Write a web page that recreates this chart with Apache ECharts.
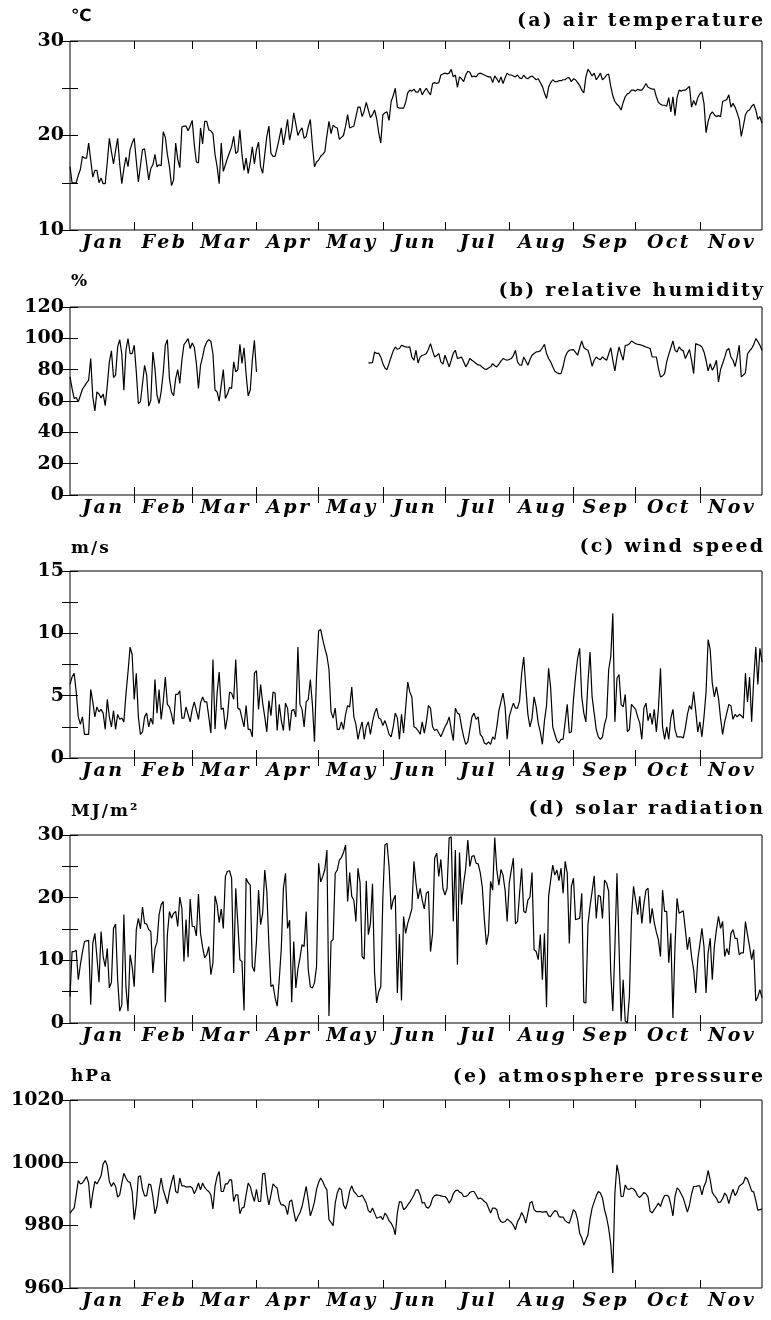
<!DOCTYPE html>
<html>
<head>
<meta charset="utf-8">
<script src="https://cdn.jsdelivr.net/npm/echarts@6/dist/echarts.min.js"></script>
<style>
  html, body { margin: 0; padding: 0; background: #fff; }
  #chart { width: 771px; height: 1320px; }
</style>
</head>
<body>
<div id="chart"></div>
<script>
// day index 0 = Jan 1; axis runs to the end of November
const monthNames = ["Jan", "Feb", "Mar", "Apr", "May", "Jun", "Jul", "Aug", "Sep", "Oct", "Nov"];
const monthTicks = [31, 59, 90, 120, 151, 181, 212, 243, 273, 304];
const monthMids = [15.5, 45, 74.5, 105, 135.5, 166, 196.5, 227.5, 258, 288.5, 319];
const lastDay = 334;

// (a) air temperature, degC
const tempVals = [
  16.7,15.0,15.0,15.0,15.8,16.4,17.8,17.6,17.6,19.2,
  17.4,15.6,16.3,16.3,15.0,15.5,14.9,14.9,17.2,19.7,
  18.3,17.0,18.4,19.7,17.0,14.9,16.5,17.7,16.7,18.5,
  19.2,19.7,17.3,15.1,16.8,18.5,18.6,17.0,15.3,16.5,
  16.9,18.0,16.7,16.9,16.8,20.4,19.8,18.0,16.7,14.7,
  15.3,19.2,17.5,16.6,20.9,21.0,21.0,20.5,21.0,21.6,
  19.0,17.2,17.1,20.8,19.1,21.5,21.5,20.6,20.5,20.2,
  18.0,16.7,14.9,19.2,16.2,16.9,17.6,18.2,18.8,19.9,
  18.1,18.3,20.6,18.0,16.3,17.6,16.0,17.2,18.8,17.0,
  18.5,19.3,16.7,16.0,18.0,19.9,21.0,18.1,17.8,17.8,
  18.7,19.7,20.8,19.0,20.3,21.7,19.5,20.6,22.4,21.2,
  20.0,20.5,20.8,19.7,19.9,20.9,21.7,19.0,16.7,17.2,
  17.4,17.8,18.0,18.3,20.0,21.5,20.2,21.1,20.9,20.8,
  19.6,19.8,20.0,21.0,22.2,20.8,20.9,21.0,22.0,23.0,
  23.0,22.0,22.6,23.5,22.7,21.9,22.2,22.7,21.8,20.3,
  19.2,22.2,22.4,22.5,21.6,23.6,24.2,25.0,23.0,22.9,
  22.9,22.9,23.5,24.5,24.8,24.7,24.9,24.6,24.6,25.0,
  24.3,24.7,25.0,24.6,24.3,25.5,25.6,25.5,25.6,26.4,
  26.5,26.6,26.5,26.6,27.0,26.2,26.4,25.1,26.2,26.0,
  25.7,26.4,26.8,26.7,26.2,26.3,26.2,26.5,26.6,26.5,
  26.4,26.3,26.2,26.2,25.6,26.3,26.0,25.6,26.2,25.5,
  26.1,26.6,26.4,26.4,26.3,26.2,26.4,26.1,26.0,26.4,
  26.1,26.0,26.2,26.3,26.1,25.9,26.0,25.6,25.2,24.5,
  23.9,25.1,25.6,25.9,25.7,25.7,25.8,25.8,25.9,25.9,
  26.1,26.1,25.7,26.0,25.9,25.6,25.3,24.8,24.5,26.2,
  27.0,26.7,26.3,26.6,25.9,26.2,26.6,25.9,26.1,26.4,
  26.5,25.2,24.2,23.6,23.3,23.1,22.7,23.5,24.1,24.4,
  24.5,24.8,24.8,24.7,24.9,24.8,24.8,25.1,25.5,25.1,
  25.0,24.9,24.9,24.1,23.5,23.3,23.2,23.2,23.1,24.0,
  22.5,24.1,22.1,24.0,24.8,24.7,24.8,24.8,25.0,25.2,
  23.0,23.7,23.2,24.0,24.4,24.6,23.4,20.3,21.5,22.2,
  22.5,22.2,22.0,22.1,22.0,23.6,23.7,23.8,24.3,23.0,
  23.4,23.0,22.4,21.7,19.9,21.0,22.2,22.6,22.7,23.1,
  23.3,22.7,21.7,22.0,21.3
];

// (b) relative humidity, % : two recorded stretches with a gap between them
const rhStartA = 0;
const rhValsA = [
  75.4,68.0,61.6,62.2,59.5,63.5,67.5,69.5,71.6,73.3,
  87.1,62.7,53.7,65.8,64.5,62.0,64.5,57.0,70.0,85.0,
  92.0,75.0,76.5,94.5,99.2,90.0,66.9,92.4,99.8,90.3,
  90.3,95.6,78.6,58.4,59.5,71.0,82.8,76.5,56.7,60.5,
  91.3,80.7,63.7,58.4,66.0,78.0,95.6,99.2,74.3,65.8,
  63.3,74.3,80.0,71.2,86.0,96.0,97.7,99.8,93.5,97.0,
  94.5,84.0,68.0,82.8,88.1,94.5,97.7,99.2,98.0,90.0,
  67.0,65.8,59.9,70.1,80.0,61.6,64.4,68.6,68.0,85.0,
  78.6,80.0,96.2,84.0,94.0,77.1,63.3,67.0,86.0,98.8,
  78.6
];
const rhStartB = 144;
const rhValsB = [
  84.3,84.3,84.5,91.3,90.3,90.5,
  88.0,84.0,81.0,80.0,84.0,88.1,92.0,94.5,93.0,93.5,
  95.6,95.0,94.5,94.3,94.5,88.0,86.0,92.4,84.3,88.0,
  89.2,89.5,90.3,93.0,96.6,92.0,88.1,89.0,90.3,85.0,
  83.5,89.2,85.5,81.8,86.0,90.5,92.4,87.1,87.5,88.1,
  85.0,81.8,84.0,87.1,86.0,85.0,84.0,83.0,82.8,81.5,
  80.5,80.1,81.0,81.8,83.9,82.5,81.8,83.5,85.5,87.1,
  86.5,86.0,86.5,87.1,89.0,92.4,85.0,83.0,82.8,88.1,
  85.5,82.8,86.5,89.2,90.3,91.3,91.5,92.0,94.0,96.2,
  90.3,87.1,85.0,81.8,79.0,78.0,77.5,77.5,82.0,88.1,
  91.0,92.4,92.6,92.8,91.0,89.2,94.0,98.3,94.1,93.0,
  92.4,88.0,82.2,86.0,88.1,87.0,86.4,88.1,87.0,86.0,
  90.0,94.1,86.0,79.2,88.0,94.5,90.0,86.0,95.6,95.6,
  96.5,98.3,97.5,96.6,96.2,96.0,95.6,95.0,94.5,94.0,
  93.5,88.1,88.1,88.1,81.0,75.4,76.0,77.5,85.0,89.8,
  94.0,98.3,92.4,91.3,94.5,92.8,92.0,87.1,90.0,92.8,
  86.0,77.5,96.6,96.0,95.6,94.5,91.3,86.0,79.2,83.9,
  79.7,82.0,86.0,72.2,80.0,83.9,88.0,92.4,93.5,88.1,
  86.0,82.0,88.0,95.6,75.4,76.5,78.0,90.0,92.0,93.5,
  96.0,99.8,98.0,95.6,92.4
];

// (c) wind speed, m/s
const windVals = [
  5.9,6.5,6.8,5.3,3.3,2.7,3.3,1.9,1.9,1.9,
  5.5,4.5,3.3,4.1,3.7,3.9,3.6,2.3,4.7,3.3,
  2.5,3.8,2.3,3.5,3.1,3.2,2.9,5.1,6.9,8.9,
  8.3,4.7,6.8,3.3,1.9,2.1,3.3,3.6,2.5,3.2,
  2.7,6.3,3.6,5.5,3.1,4.5,6.5,4.3,4.1,3.5,
  2.7,5.1,5.1,5.4,3.2,3.2,4.1,3.5,2.9,3.9,
  4.5,3.8,3.1,4.4,4.9,4.5,4.5,3.3,2.0,7.9,
  2.3,5.2,6.9,3.9,4.0,2.3,3.3,5.3,5.2,4.7,
  7.9,4.0,3.9,3.2,2.5,4.2,2.3,2.3,1.7,6.8,
  7.0,3.9,5.9,4.4,3.3,2.1,4.6,3.4,5.3,5.2,
  2.2,4.3,3.0,2.2,4.4,4.0,2.2,3.8,3.9,3.3,
  8.9,4.3,3.9,2.5,4.5,4.7,6.3,4.3,1.3,6.7,
  10.2,10.3,9.5,8.8,8.2,7.1,3.7,3.2,4.0,2.3,
  2.3,2.9,2.3,3.5,4.2,4.1,5.7,3.3,2.7,1.5,
  2.3,2.9,1.5,2.5,2.9,1.9,2.9,3.6,4.0,3.2,
  3.1,2.6,3.0,2.5,1.9,1.7,2.5,3.6,3.2,1.5,
  3.5,2.0,4.0,6.1,5.3,4.9,2.5,2.4,2.2,1.9,
  2.9,2.0,2.9,4.2,4.0,2.5,2.2,2.3,2.0,1.7,
  2.1,2.5,2.8,3.3,2.3,1.4,4.0,3.6,3.5,2.5,
  1.7,1.1,1.3,2.3,3.3,3.6,3.1,3.3,1.9,1.7,
  1.2,1.1,1.3,1.1,1.7,1.5,2.5,3.8,4.5,5.2,
  4.1,1.5,3.3,3.9,4.4,4.0,4.0,4.6,6.8,8.1,
  5.7,3.5,2.5,3.2,4.9,4.1,2.8,2.1,1.1,3.0,
  4.2,7.2,5.6,2.5,1.9,1.4,1.2,1.5,1.5,2.9,
  4.3,2.0,2.1,4.7,6.5,8.0,8.8,4.9,3.6,2.9,
  6.1,8.5,4.9,3.6,2.3,1.7,1.5,1.7,2.7,3.3,
  7.1,8.1,11.6,2.9,6.4,6.7,4.3,4.1,5.1,2.1,
  2.3,4.3,4.1,3.9,3.3,2.8,1.5,4.0,4.4,3.0,
  3.6,2.7,3.9,2.1,3.9,7.2,2.5,1.5,2.5,1.5,
  3.2,3.9,2.3,1.7,1.7,1.7,1.6,2.4,3.5,4.2,
  3.9,5.3,3.8,2.1,2.9,1.7,3.3,5.3,9.5,8.7,
  6.0,4.9,5.7,4.8,3.2,1.9,2.9,3.6,4.3,4.2,
  3.1,3.5,3.3,3.5,3.4,3.2,6.8,4.5,6.5,2.9,
  6.3,8.9,5.9,8.8,7.7
];

// (d) solar radiation, MJ/m2
const solarVals = [
  4.2,11.4,11.4,11.6,6.9,9.3,11.3,13.0,13.1,13.2,
  2.9,12.7,14.3,10.5,6.5,14.6,10.6,9.0,11.9,5.6,
  6.5,15.1,15.8,6.9,1.9,2.9,17.3,5.8,1.9,10.9,
  9.0,5.8,14.9,16.7,15.0,18.5,15.9,15.8,14.9,14.6,
  8.0,11.9,12.9,17.3,18.9,19.4,3.3,14.1,17.8,16.7,
  17.5,17.8,15.4,20.1,18.3,9.8,16.5,10.5,19.8,15.4,
  15.4,13.9,20.6,14.3,12.1,10.4,10.9,12.2,7.7,9.6,
  20.3,18.9,16.0,18.2,15.1,23.4,24.2,24.3,23.1,8.0,
  21.5,15.9,10.1,9.8,2.0,23.1,22.4,22.0,9.0,8.2,
  13.0,21.2,15.7,17.5,24.4,21.0,12.5,5.8,6.1,4.0,
  2.7,6.9,12.0,21.5,23.9,15.1,16.4,3.3,13.0,5.6,
  8.6,10.4,12.5,12.2,17.8,8.5,5.8,5.6,6.4,9.0,
  25.5,22.5,23.4,24.5,27.6,1.1,13.0,13.3,23.9,24.4,
  26.0,26.4,27.2,28.4,19.4,24.0,20.2,19.6,16.2,24.7,
  22.4,10.6,10.2,22.7,14.1,15.9,22.2,8.0,3.2,5.0,
  5.8,20.0,28.4,28.7,25.0,18.1,19.6,20.4,4.8,14.2,
  3.6,17.0,14.3,15.9,17.0,18.2,25.8,22.3,19.8,21.5,
  19.6,18.2,20.7,21.0,11.4,14.3,26.3,27.1,23.4,26.1,
  21.5,20.4,21.5,29.5,29.7,16.2,27.6,9.3,27.2,18.9,
  22.3,24.7,29.2,25.0,26.6,26.7,25.5,25.4,24.0,21.7,
  16.5,12.5,14.3,22.6,21.2,29.6,24.4,22.0,24.5,23.6,
  21.2,16.2,22.3,24.4,26.3,15.8,16.2,20.7,24.7,17.8,
  17.6,19.6,20.1,24.0,11.7,11.4,10.1,14.1,6.9,14.3,
  2.5,20.2,22.8,25.2,23.6,24.4,22.7,24.7,20.7,25.8,
  23.9,12.7,21.8,23.1,16.5,16.6,16.7,20.7,3.3,3.2,
  15.7,18.6,21.0,23.5,16.7,20.4,20.2,16.7,22.8,22.3,
  21.0,8.0,1.9,12.2,23.9,12.2,0.3,6.9,0.3,0.0,
  4.2,17.0,21.8,19.6,17.3,20.2,15.9,19.0,21.2,21.5,
  15.9,18.3,16.0,14.5,13.3,10.6,21.2,17.8,17.8,9.6,
  14.3,0.8,12.2,19.9,17.5,17.7,17.9,14.9,11.7,13.7,
  10.6,8.5,4.8,10.1,12.5,15.1,12.2,4.8,11.2,13.5,
  6.9,12.2,14.9,17.0,15.1,16.2,10.6,11.9,10.9,14.3,
  14.9,13.5,13.5,10.9,11.2,11.2,16.2,14.1,12.2,10.1,
  11.7,3.5,4.2,5.3,4.0
];

// (e) atmosphere pressure, hPa
const pressVals = [
  983.9,984.8,985.5,989.7,994.3,993.2,993.5,994.5,995.6,993.5,
  985.5,990.3,994.0,993.2,994.5,995.8,999.6,1000.7,999.0,994.0,
  992.4,993.7,992.4,989.0,989.7,993.5,996.6,995.1,994.0,993.7,
  990.8,981.8,986.5,995.6,995.8,991.5,989.4,989.4,993.2,992.9,
  989.2,983.7,986.0,991.3,995.1,991.3,989.2,986.9,990.8,993.7,
  996.1,990.8,990.3,995.1,992.6,992.6,992.2,992.3,992.4,991.9,
  990.1,991.5,993.5,991.3,993.5,992.1,991.3,990.8,989.7,985.2,
  992.4,995.6,997.2,990.8,990.8,993.2,993.2,994.5,994.5,987.6,
  989.7,989.7,983.7,985.5,985.8,989.7,993.5,992.4,989.7,987.6,
  991.5,987.6,987.6,996.4,996.6,990.3,986.5,989.7,993.2,992.4,
  991.9,988.0,986.5,986.5,986.0,983.4,987.6,988.1,984.4,981.2,
  982.8,984.0,986.0,989.2,992.4,988.1,983.0,985.0,987.5,991.5,
  993.7,995.1,994.0,992.4,991.3,981.8,980.9,979.9,987.1,990.3,
  991.9,991.3,986.5,985.2,987.5,991.0,992.6,990.8,990.1,989.2,
  989.2,989.7,988.4,987.1,984.7,984.1,985.5,983.9,982.3,982.5,
  982.8,981.8,983.9,983.0,981.5,980.7,979.4,977.0,984.0,987.6,
  987.4,985.0,985.5,986.5,987.4,988.5,989.7,991.3,991.3,989.7,
  987.1,987.3,985.8,985.5,986.5,988.7,989.5,989.7,989.6,989.4,
  989.2,989.2,988.5,987.1,988.1,990.1,991.0,991.3,990.6,990.3,
  989.2,989.2,989.6,990.5,990.8,990.8,989.7,988.4,988.7,988.3,
  987.6,987.1,985.5,983.9,985.5,985.5,985.0,982.3,981.2,980.9,
  981.2,982.0,981.5,980.9,980.0,978.6,981.2,982.3,984.1,982.8,
  980.7,983.9,987.1,987.6,985.0,984.4,984.4,984.4,984.2,984.3,
  984.4,983.0,982.8,983.9,984.7,984.4,982.8,982.6,982.6,981.5,
  981.0,980.7,982.8,985.0,984.3,981.8,977.5,976.0,973.7,975.3,
  977.0,982.0,985.5,987.5,989.4,990.8,990.3,988.7,985.0,982.5,
  979.0,974.0,964.8,990.3,999.3,996.0,989.2,989.2,992.9,991.6,
  991.5,991.9,991.6,990.8,989.4,988.9,989.6,990.5,990.1,989.0,
  984.5,984.0,985.0,986.0,987.1,986.0,988.1,989.5,989.6,989.2,
  986.5,983.0,989.2,991.9,991.3,990.0,988.7,986.5,984.2,986.5,
  990.0,992.4,992.4,992.6,992.6,989.7,992.4,994.0,997.5,994.5,
  990.5,989.5,988.7,987.2,987.5,988.5,990.3,989.4,986.9,989.5,
  991.5,989.5,990.6,992.5,993.0,993.6,995.4,994.7,992.9,991.0,
  990.6,988.0,984.8,985.0,985.2
];

const toPairs = (vals, start) => vals.map((v, i) => [start + i, v]);

// wrap each character in a rich-text token so it can be letter-spaced
const spaced = (s, tag) => s.split('').map(c => '{' + tag + '|' + c + '}').join('');

const serif = 'DejaVu Serif';
const panels = [
  { top: 41, height: 189, min: 10, max: 30, step: 5, every: 10, unit: '℃', unitFont: 'DejaVu Sans', unitGap: 24,
    title: '(a) air temperature', titleTop: 12, data: [toPairs(tempVals, 0)] },
  { top: 307, height: 188, min: 0, max: 120, step: 20, every: 20, unit: '%', unitFont: serif, unitGap: 25,
    title: '(b) relative humidity', titleTop: 282, data: [toPairs(rhValsA, rhStartA), toPairs(rhValsB, rhStartB)] },
  { top: 571, height: 187, min: 0, max: 15, step: 2.5, every: 5, unit: 'm/s', unitFont: serif, unitGap: 22,
    title: '(c) wind speed', titleTop: 538, data: [toPairs(windVals, 0)] },
  { top: 835, height: 188, min: 0, max: 30, step: 5, every: 10, unit: 'MJ/m²', unitFont: serif, unitGap: 23,
    title: '(d) solar radiation', titleTop: 800, data: [toPairs(solarVals, 0)] },
  { top: 1100, height: 188, min: 960, max: 1020, step: 20, every: 20, unit: 'hPa', unitFont: serif, unitGap: 23,
    title: '(e) atmosphere pressure', titleTop: 1068, data: [toPairs(pressVals, 0)] }
];

const monthRich = { m: { fontFamily: serif, fontWeight: 'bold', fontStyle: 'italic', fontSize: 19, color: '#000', padding: [0, 1.2] } };
const titleRich = { t: { fontFamily: serif, fontWeight: 'bold', fontSize: 19, color: '#000', padding: [0, 1.1] } };

const grids = [], xAxes = [], yAxes = [], series = [], titles = [];

panels.forEach((p, k) => {
  grids.push({ left: 70, right: 9, top: p.top, height: p.height, show: true,
    borderColor: '#000', borderWidth: 1, backgroundColor: 'transparent' });

  const xBase = {
    gridIndex: k, type: 'value', min: 0, max: lastDay,
    axisLine: { show: false }, splitLine: { show: false },
    axisTick: { show: true, inside: true, length: 8, customValues: monthTicks, lineStyle: { color: '#000', width: 1 } }
  };
  xAxes.push(Object.assign({}, xBase, {
    position: 'bottom',
    axisLabel: {
      customValues: monthMids, margin: 4, rich: monthRich,
      formatter: v => {
        const i = monthMids.indexOf(v);
        return i < 0 ? '' : spaced(monthNames[i], 'm');
      }
    }
  }));
  xAxes.push(Object.assign({}, xBase, { position: 'top', axisLabel: { show: false } }));

  const yBase = {
    gridIndex: k, type: 'value', min: p.min, max: p.max, interval: p.step,
    axisLine: { show: false }, splitLine: { show: false },
    axisTick: { show: true, inside: true, length: 8, lineStyle: { color: '#000', width: 1 } }
  };
  yAxes.push(Object.assign({}, yBase, {
    position: 'left',
    axisLabel: {
      margin: 6, fontFamily: serif, fontWeight: 'bold', fontSize: 19, color: '#000',
      formatter: v => (Math.abs(v % p.every) < 1e-9 ? String(v) : '')
    },
    name: spaced(p.unit, 'u'),
    nameLocation: 'end',
    nameGap: p.unitGap,
    nameTextStyle: {
      align: 'left', verticalAlign: 'middle',
      rich: { u: { fontFamily: p.unitFont, fontWeight: 'bold', fontSize: 17, color: '#000', padding: [0, 1] } }
    }
  }));
  yAxes.push(Object.assign({}, yBase, { position: 'right', axisLabel: { show: false } }));

  p.data.forEach(d => {
    series.push({
      type: 'line', xAxisIndex: 2 * k, yAxisIndex: 2 * k, data: d,
      showSymbol: false, symbol: 'none', silent: true,
      lineStyle: { color: '#000', width: 1.2 }
    });
  });

  titles.push({ text: spaced(p.title, 't'), right: 9, top: p.titleTop, padding: 0,
    textStyle: { rich: titleRich } });
});

const chart = echarts.init(document.getElementById('chart'));
chart.setOption({
  animation: false,
  backgroundColor: '#fff',
  textStyle: { fontFamily: serif },
  title: titles,
  grid: grids,
  xAxis: xAxes,
  yAxis: yAxes,
  series: series
});
</script>
</body>
</html>
